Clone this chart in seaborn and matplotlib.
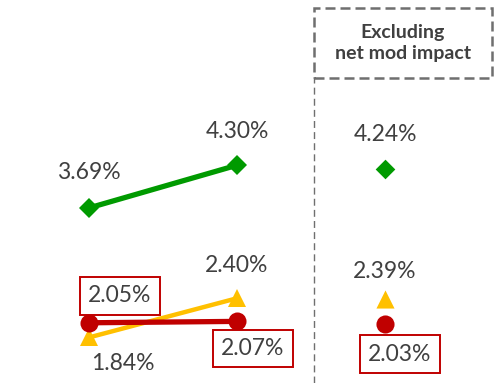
import matplotlib
matplotlib.use("Agg")
import matplotlib.pyplot as plt
import seaborn as sns
import pandas as pd
from matplotlib.patches import Rectangle

sns.set_style("white")
plt.rcParams['font.family'] = ['Lato', 'DejaVu Sans']

# Data
periods = [0, 1]
green_vals = [3.69, 4.30]
yellow_vals = [1.84, 2.40]
red_vals = [2.05, 2.07]
excl_x = 2
excl_green = 4.24
excl_yellow = 2.39
excl_red = 2.03
header_text = "Excluding\nnet mod impact"

GREEN = "#009A00"
YELLOW = "#FFC000"
RED = "#C00000"
TXT = "#404040"

fig = plt.figure(figsize=(4.94, 3.83), dpi=100)
ax = fig.add_axes([0, 0, 1, 1])

df = pd.DataFrame({
    "x": periods * 3,
    "y": green_vals + yellow_vals + red_vals,
    "s": ["g"] * 2 + ["y"] * 2 + ["r"] * 2,
})

sns.lineplot(data=df[df.s == "g"], x="x", y="y", ax=ax, color=GREEN, lw=3.8,
             marker="D", markersize=10, markeredgewidth=0)
sns.lineplot(data=df[df.s == "y"], x="x", y="y", ax=ax, color=YELLOW, lw=3.2,
             marker="^", markersize=13, markeredgewidth=0)
sns.lineplot(data=df[df.s == "r"], x="x", y="y", ax=ax, color=RED, lw=3.8,
             marker="o", markersize=13, markeredgewidth=0)

sns.scatterplot(x=[excl_x], y=[excl_green], ax=ax, color=GREEN, marker="D", s=100, linewidth=0)
sns.scatterplot(x=[excl_x], y=[excl_yellow], ax=ax, color=YELLOW, marker="^", s=170, linewidth=0)
sns.scatterplot(x=[excl_x], y=[excl_red], ax=ax, color=RED, marker="o", s=170, linewidth=0)

ax.set_xlim(-0.6, 2.736)
ax.set_ylim(1.19, 6.66)
ax.axis("off")

FS = 16.5

def lab(x, y, dx, dy, boxed=False):
    kw = {}
    if boxed:
        kw["bbox"] = dict(boxstyle="square,pad=0.36", fc="white", ec=RED, lw=1.4)
    ax.annotate(f"{y:.2f}%", xy=(x, y), xytext=(dx, dy), textcoords="offset pixels",
                ha="center", va="center", fontsize=FS, color=TXT, **kw)

lab(periods[0], green_vals[0], 0, 35)
lab(periods[1], green_vals[1], 0, 34)
lab(excl_x, excl_green, 0, 35)
lab(periods[1], yellow_vals[1], 0, 33)
lab(periods[0], yellow_vals[0], 34, -26)
lab(excl_x, excl_yellow, 0, 27)
lab(periods[0], red_vals[0], 31, 27, boxed=True)
lab(periods[1], red_vals[1], 16, -27, boxed=True)
lab(excl_x, excl_red, 15, -30, boxed=True)

# Header dashed box and divider
x0 = 314 / 494
yb = 1 - 78 / 383
yt = 1 - 8 / 383
fig.patches.append(Rectangle((x0, yb), 492 / 494 - x0, yt - yb, transform=fig.transFigure,
                             fill=False, ec="#6F6F6F", lw=1.8, ls=(0, (4, 2))))
fig.add_artist(plt.Line2D([x0, x0], [0, yb], transform=fig.transFigure,
                          color="#6F6F6F", lw=1.0, ls=(0, (5, 3))))
fig.text((x0 + 492 / 494) / 2, (yb + yt) / 2, header_text, ha="center", va="center",
         fontsize=14, fontweight="bold", color=TXT, linespacing=1.3)

fig.savefig("out.png", dpi=100)
